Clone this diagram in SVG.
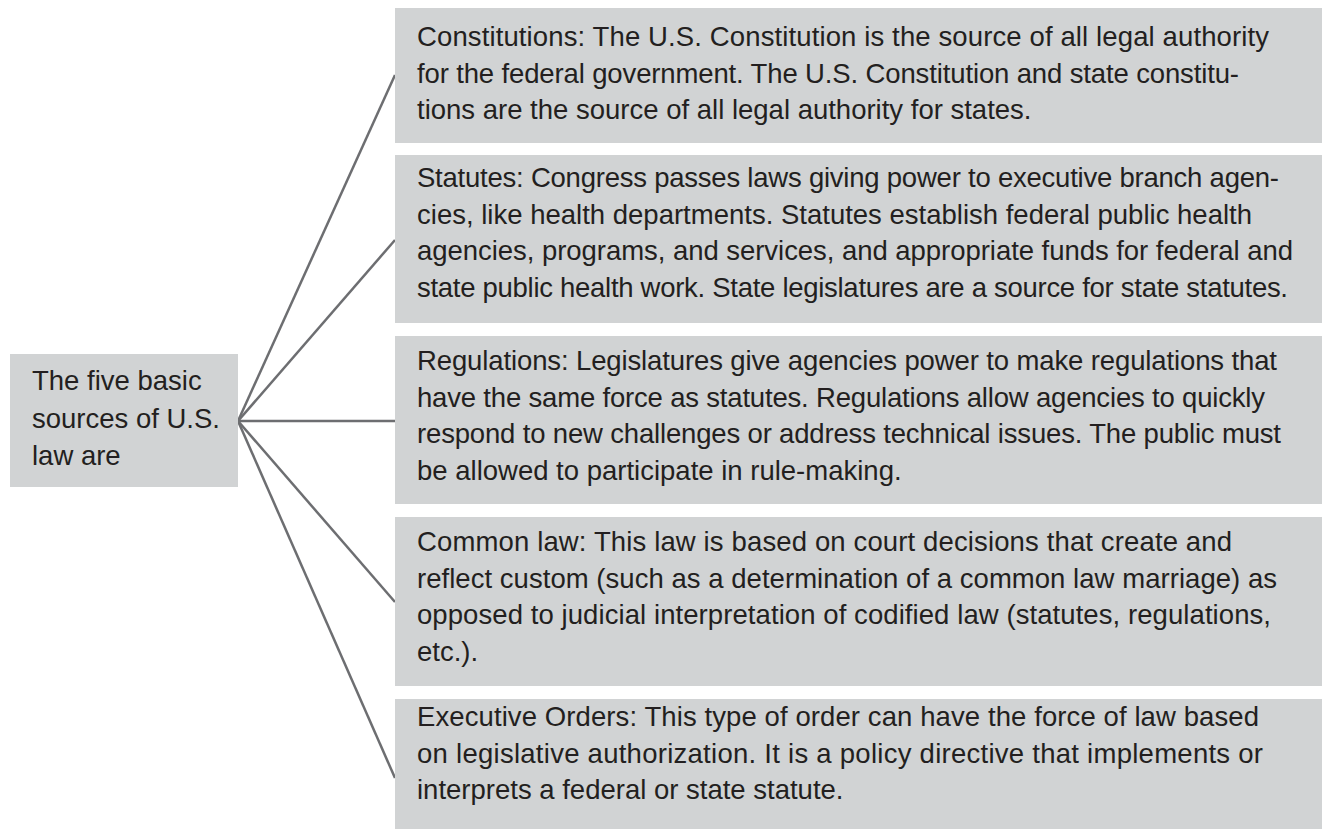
<svg xmlns="http://www.w3.org/2000/svg" width="1322" height="829" viewBox="0 0 1322 829">
<style>
.box{fill:#d1d3d4;stroke:none}
.t{font-family:"Liberation Sans",Arial,sans-serif;font-size:27.5px;fill:#231f20}
.c{stroke:#6d6e71;stroke-width:2.5;fill:none}
</style>
<rect width="1322" height="829" fill="#ffffff"/>
<g id="connectors">
<line class="c" x1="238" y1="421" x2="395" y2="75"/>
<line class="c" x1="238" y1="421" x2="395" y2="240"/>
<line class="c" x1="238" y1="421" x2="395" y2="421"/>
<line class="c" x1="238" y1="421" x2="395" y2="602"/>
<line class="c" x1="238" y1="421" x2="395" y2="778"/>
</g>
<g id="root">
<rect class="box" x="10" y="354" width="228" height="133"/>
<text class="t" x="32" y="390">The five basic</text>
<text class="t" x="32" y="428">sources of U.S.</text>
<text class="t" x="32" y="465">law are</text>
</g>
<g id="constitutions">
<rect class="box" x="395" y="8" width="927" height="135"/>
<text class="t" x="417" y="46" textLength="852" lengthAdjust="spacing">Constitutions: The U.S. Constitution is the source of all legal authority</text>
<text class="t" x="417" y="82.5" textLength="822" lengthAdjust="spacing">for the federal government. The U.S. Constitution and state constitu-</text>
<text class="t" x="417" y="119">tions are the source of all legal authority for states.</text>
</g>
<g id="statutes">
<rect class="box" x="395" y="155" width="927" height="168"/>
<text class="t" x="417" y="187" textLength="862" lengthAdjust="spacing">Statutes: Congress passes laws giving power to executive branch agen-</text>
<text class="t" x="417" y="223.7" textLength="835" lengthAdjust="spacing">cies, like health departments. Statutes establish federal public health</text>
<text class="t" x="417" y="260.4" textLength="876" lengthAdjust="spacing">agencies, programs, and services, and appropriate funds for federal and</text>
<text class="t" x="417" y="297" textLength="871" lengthAdjust="spacing">state public health work. State legislatures are a source for state statutes.</text>
</g>
<g id="regulations">
<rect class="box" x="395" y="336" width="927" height="168"/>
<text class="t" x="417" y="370" textLength="860" lengthAdjust="spacing">Regulations: Legislatures give agencies power to make regulations that</text>
<text class="t" x="417" y="406.7" textLength="848" lengthAdjust="spacing">have the same force as statutes. Regulations allow agencies to quickly</text>
<text class="t" x="417" y="443.4" textLength="864" lengthAdjust="spacing">respond to new challenges or address technical issues. The public must</text>
<text class="t" x="417" y="480">be allowed to participate in rule-making.</text>
</g>
<g id="common-law">
<rect class="box" x="395" y="517" width="927" height="169"/>
<text class="t" x="417" y="551" textLength="815" lengthAdjust="spacing">Common law: This law is based on court decisions that create and</text>
<text class="t" x="417" y="587.7" textLength="860" lengthAdjust="spacing">reflect custom (such as a determination of a common law marriage) as</text>
<text class="t" x="417" y="624.4" textLength="854" lengthAdjust="spacing">opposed to judicial interpretation of codified law (statutes, regulations,</text>
<text class="t" x="417" y="661">etc.).</text>
</g>
<g id="executive-orders">
<rect class="box" x="395" y="699" width="927" height="160"/>
<text class="t" x="417" y="726" textLength="842" lengthAdjust="spacing">Executive Orders: This type of order can have the force of law based</text>
<text class="t" x="417" y="762.7" textLength="846" lengthAdjust="spacing">on legislative authorization. It is a policy directive that implements or</text>
<text class="t" x="417" y="799.4">interprets a federal or state statute.</text>
</g>
</svg>
